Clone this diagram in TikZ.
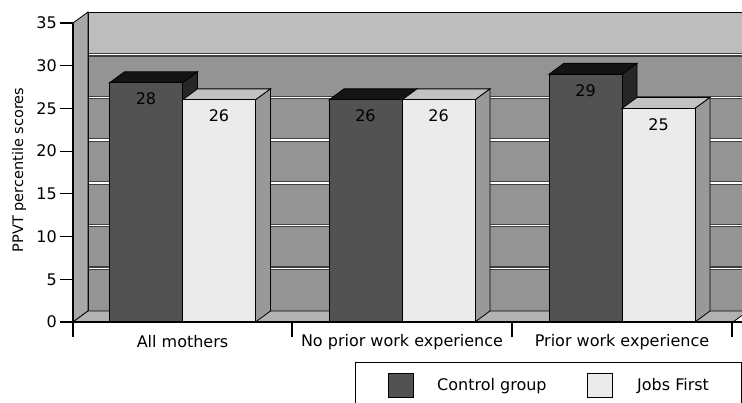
\documentclass[tikz,border=0pt]{standalone}
\usepackage{fontspec}
\setmainfont{DejaVu Sans}
\begin{document}
\begin{tikzpicture}[x=1pt,y=-1pt,
		lbl/.style={font=\fontsize{16}{18}\selectfont, inner sep=0pt},
		ctrlfront/.style={fill=black!68, draw=black, line width=0.8},
		ctrltop/.style={fill=black!92, draw=black, line width=0.8},
		ctrlside/.style={fill=black!85, draw=black, line width=0.8},
		jobsfront/.style={fill=black!8, draw=black, line width=0.8},
		jobstop/.style={fill=black!24, draw=black, line width=0.8},
		jobsside/.style={fill=black!40, draw=black, line width=0.8},
		gridline/.style={line width=3.6, black!75},
		axisline/.style={line width=1.2, black}]
	\useasboundingbox (0,0) rectangle (742,403);
	\clip (0,0) rectangle (742,403);
	% Walls and floor
	\fill[black!42] (88,12) rectangle (748,311);
	\fill[black!26] (88,12) rectangle (748,54.3);
	\foreach \k in {1,...,6} {
		\pgfmathsetmacro{\gy}{311-42.715*\k}
		\draw[gridline] (88,\gy) -- (748,\gy);
		\draw[line width=1.4, white] (88,\gy) -- (748,\gy);
	}
	\draw[line width=0.8] (88,311) -- (88,12) -- (748,12);
	\filldraw[fill=black!34, draw=black, line width=0.8] (73,322) -- (73,23) -- (88,12) -- (88,311) -- cycle;
	\filldraw[fill=black!30, draw=black, line width=0.8] (73,322) -- (733,322) -- (748,311) -- (88,311) -- cycle;
	% Bars
	\foreach \c/\vc/\vj [count=\g] in {182.5/28/26, 402/26/26, 622/29/25} {
		\pgfmathsetmacro{\lc}{\c-73}
		\pgfmathsetmacro{\tc}{322-8.543*\vc}
		\pgfmathsetmacro{\tj}{322-8.543*\vj}
		\draw[ctrltop] (\lc,\tc) -- (\lc+15,\tc-11) -- (\lc+88,\tc-11) -- (\lc+73,\tc) -- cycle;
		\draw[ctrlside] (\lc+73,\tc) -- (\lc+88,\tc-11) -- (\lc+88,311) -- (\lc+73,322) -- cycle;
		\draw[ctrlfront] (\lc,\tc) rectangle (\lc+73,322);
		\node[lbl] (ctrl\g) at (\lc+36.5,\tc+16) {\vc};
		\draw[jobstop] (\c,\tj) -- (\c+15,\tj-11) -- (\c+88,\tj-11) -- (\c+73,\tj) -- cycle;
		\draw[jobsside] (\c+73,\tj) -- (\c+88,\tj-11) -- (\c+88,311) -- (\c+73,322) -- cycle;
		\draw[jobsfront] (\c,\tj) rectangle (\c+73,322);
		\node[lbl] (jobs\g) at (\c+36.5,\tj+16) {\vj};
	}
	% Axes
	\draw[axisline] (73,23) -- (73,337);
	\foreach \v in {0,...,7} {
		\pgfmathsetmacro{\ty}{322-42.715*\v}
		\pgfmathtruncatemacro{\tv}{5*\v}
		\draw[axisline] (60,\ty) -- (73,\ty);
		\node[lbl, anchor=east] (tick\v) at (57,\ty) {\tv};
	}
	\draw[axisline] (73,322) -- (742,322);
	\foreach \x in {292,512,732} {
		\draw[axisline] (\x,322) -- (\x,337);
	}
	\node[lbl] (cat1) at (182.5,342) {All mothers};
	\node[lbl] (cat2) at (402,342) {No prior work experience};
	\node[lbl] (cat3) at (622,342) {Prior work experience};
	\node[lbl, font=\fontsize{14.5}{16}\selectfont, rotate=90] (ylabel) at (19,170) {PPVT percentile scores};
	% Legend
	\draw[line width=0.8] (355,403) -- (355,362) -- (741,362) -- (741,403);
	\draw[ctrlfront] (388,373) rectangle (413,397);
	\node[lbl, anchor=west] (legctrl) at (437,386) {Control group};
	\draw[jobsfront] (587,373) rectangle (612,397);
	\node[lbl, anchor=west] (legjobs) at (637,386) {Jobs First};
\end{tikzpicture}
\end{document}
